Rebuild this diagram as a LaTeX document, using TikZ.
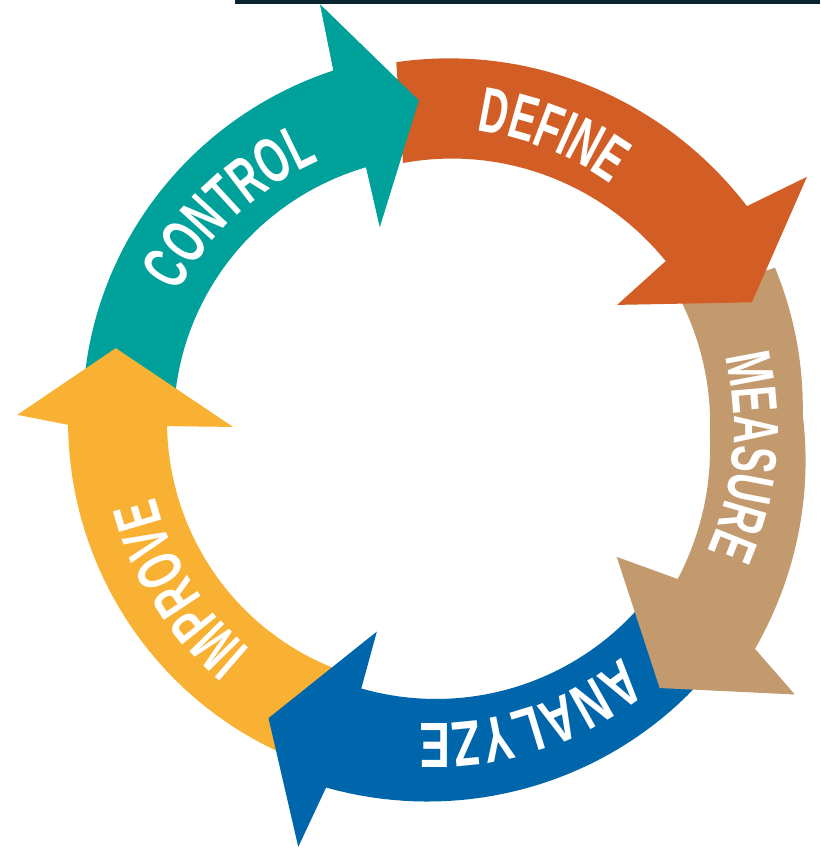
\documentclass[tikz,border=0pt]{standalone}
\usepackage{fontspec}
\newfontfamily\lblfamily[FakeStretch=0.62]{Liberation Sans}
\newfontfamily\lblwidefamily[FakeStretch=0.72]{Liberation Sans}
\usetikzlibrary{decorations.text}
\definecolor{cteal}{RGB}{0,161,154}
\definecolor{corange}{RGB}{210,94,38}
\definecolor{ctan}{RGB}{195,154,110}
\definecolor{cblue}{RGB}{0,102,172}
\definecolor{cyellow}{RGB}{248,177,51}
\definecolor{cnavy}{RGB}{10,37,48}
\newcommand\lblfont{\lblfamily\bfseries\fontsize{64}{64}\selectfont}
\newcommand\lblwidefont{\lblwidefamily\bfseries\fontsize{64}{64}\selectfont}
\tikzset{
  ringtext/.style={decorate, decoration={text along path, text align=center, text color=white, text={|\lblfont|#1}}},
  ringtextwide/.style={decorate, decoration={text along path, text align=center, text color=white, text={|\lblwidefont|#1}}}
}
\begin{document}
\begin{tikzpicture}[x=1pt,y=1pt]
\useasboundingbox (0,0) rectangle (820,850);
\fill[white] (0,0) rectangle (820,850);
\fill[cnavy] (235,846) rectangle (820,850);
\begin{scope}[shift={(436,422)}]
% CONTROL (teal)
\fill[cteal] (172:355) -- plot[variable=\t,domain=172:106,samples=40] ({\t}:{355+17*(172-\t)/66})
  -- (105.3:439) -- (93:328) -- (105.6:209) -- (105:270)
  -- plot[variable=\t,domain=105:172,samples=40] ({\t}:{270-7*(\t-105)/67}) -- cycle;
% IMPROVE (yellow)
\fill[cyellow] (244.5:360) -- plot[variable=\t,domain=244.5:179.5,samples=40] ({\t}:{360+8*(244.5-\t)/65})
  -- (178.2:419) -- (166:330) -- (179.7:203) -- (179.6:269)
  -- plot[variable=\t,domain=179.6:247,samples=40] ({\t}:{269-8*(\t-179.6)/67.4}) -- cycle;
% ANALYZE (blue)
\fill[cblue] (-40:367) -- plot[variable=\t,domain=-40:-107,samples=40] ({\t}:{366+10*(-40-\t)/67})
  -- (-108.2:441) -- (-120:335) -- (-106.2:212) -- (-106:273)
  -- plot[variable=\t,domain=-106:-42,samples=40] ({\t}:{271}) -- cycle;
% MEASURE (tan)
\fill[ctan] (25.3:375) -- plot[variable=\t,domain=25.3:2,samples=20] ({\t}:{375-8*(25.3-\t)/23.3})
  -- plot[variable=\t,domain=2:-34.7,samples=30] ({\t}:{367+21*(2-\t)/36.7})
  -- (-36.6:447) -- (-49.3:343) -- (-35.5:222) -- (-32:285)
  -- plot[variable=\t,domain=-32:-2,samples=30] ({\t}:{285-11*(\t+32)/30})
  -- plot[variable=\t,domain=-2:28,samples=30] ({\t}:{274+2*(\t+2)/30}) -- cycle;
% DEFINE (orange)
\fill[corange] (96.2:368) -- plot[variable=\t,domain=96.2:35.5,samples=40] ({\t}:{368+14*(96.2-\t)/60.7})
  -- (34.1:448) -- (21.7:340) -- (34.2:219) -- (36:284)
  -- plot[variable=\t,domain=36:97.1,samples=40] ({\t}:{284-17*(\t-36)/61.1}) -- cycle;
% CONTROL head on top of DEFINE tail
\fill[cteal] (106:372) -- (105.3:439) -- (93:328) -- (105.6:209) -- (105:270) -- cycle;
% labels
\path[ringtext=CONTROL] (178:291) arc[start angle=178, end angle=88, radius=291];
\path[ringtext=DEFINE] (113.3:300) arc[start angle=113.3, end angle=23.3, radius=300];
\path[ringtext=MEASURE] (39.8:298) arc[start angle=39.8, end angle=-50.2, radius=298];
\path[ringtextwide=ANALYZE] (-27:295) arc[start angle=-27, end angle=-117, radius=295];
\path[ringtext=IMPROVE] (257:289) arc[start angle=257, end angle=167, radius=289];
\end{scope}
\end{tikzpicture}
\end{document}
